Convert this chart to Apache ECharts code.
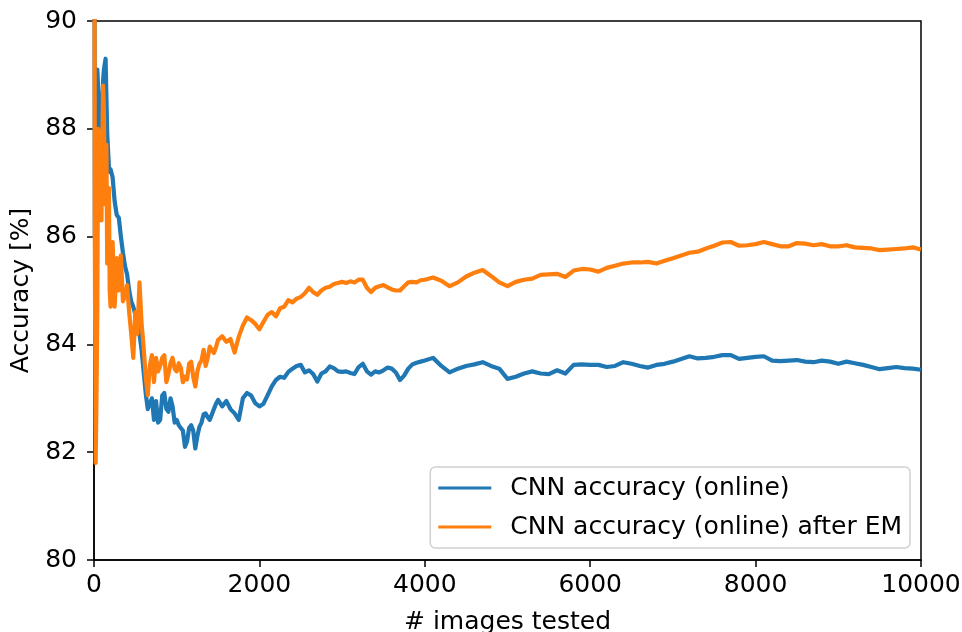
<!DOCTYPE html>
<html>
<head>
<meta charset="utf-8">
<title>CNN accuracy (online)</title>
<script src="https://cdn.jsdelivr.net/npm/echarts@6/dist/echarts.min.js"></script>
<style>
  html, body { margin: 0; padding: 0; background: #fff; }
  #chart { width: 962px; height: 632px; }
</style>
</head>
<body>
<div id="chart"></div>
<script>
// Sampling grid for "# images tested": [start, end, step] per segment
const sampleSegments = [
  [0, 200, 10],
  [200, 1500, 25],
  [1500, 4000, 50],
  [4000, 10000, 100]
];

// Running accuracy [%] of the CNN (online)
const accOnline = [
  // 0 - 200
  100, 86.0, 87.5, 88.5, 89.1, 89.1, 88.4, 88.0, 88.3, 88.6, 88.5,
  88.9, 89.1, 89.2, 89.3, 88.6, 87.9, 87.6, 87.3, 87.2, 87.25,
  // 225 - 1500
  87.1, 86.65, 86.4, 86.35, 86.0, 85.7, 85.45, 85.3, 85.0, 84.8,
  84.7, 84.55, 84.4, 84.2, 83.9, 83.5, 83.1, 82.8, 82.9, 83.0,
  82.6, 82.95, 82.55, 82.6, 83.05, 83.1, 82.8, 82.75, 83.0, 82.85,
  82.55, 82.6, 82.5, 82.45, 82.4, 82.1, 82.2, 82.45, 82.5, 82.4,
  82.07, 82.3, 82.47, 82.55, 82.7, 82.72, 82.65, 82.6, 82.7, 82.8,
  82.9, 82.97,
  // 1550 - 4000
  82.85, 82.95, 82.8, 82.72, 82.6, 83.0, 83.1, 83.05, 82.91, 82.85,
  82.9, 83.06, 83.22, 83.34, 83.4, 83.38, 83.49, 83.55, 83.6, 83.62,
  83.48, 83.52, 83.45, 83.31, 83.46, 83.5, 83.59, 83.56, 83.5, 83.49,
  83.5, 83.47, 83.45, 83.58, 83.64, 83.5, 83.44, 83.5, 83.48, 83.52,
  83.57, 83.55, 83.48, 83.34, 83.42, 83.55, 83.63, 83.66, 83.68, 83.7,
  // 4100 - 10000
  83.75, 83.6, 83.48, 83.55, 83.6, 83.63, 83.67, 83.6, 83.55, 83.36,
  83.4, 83.46, 83.5, 83.46, 83.45, 83.52, 83.46, 83.62, 83.63, 83.62,
  83.62, 83.58, 83.6, 83.67, 83.64, 83.6, 83.57, 83.62, 83.64, 83.68,
  83.73, 83.78, 83.74, 83.75, 83.77, 83.8, 83.8, 83.73, 83.75, 83.77,
  83.78, 83.7, 83.69, 83.7, 83.71, 83.68, 83.67, 83.7, 83.68, 83.64,
  83.68, 83.65, 83.62, 83.58, 83.54, 83.56, 83.58, 83.56, 83.55, 83.53
];

// Running accuracy [%] of the CNN (online) after EM
const accAfterEM = [
  // 0 - 200
  100, 86.0, 81.8, 83.0, 84.6, 88.0, 86.4, 87.6, 87.9, 86.3, 87.6,
  88.8, 88.3, 86.6, 87.4, 87.7, 85.5, 86.4, 86.9, 85.0, 84.7,
  // 225 - 1500
  85.9, 84.7, 85.6, 85.0, 85.65, 84.8, 84.9, 85.1, 84.6, 84.2,
  83.75, 84.6, 84.2, 85.15, 84.4, 83.95, 83.4, 83.06, 83.6, 83.8,
  83.3, 83.75, 83.5, 83.6, 83.75, 83.8, 83.3, 83.45, 83.65, 83.75,
  83.55, 83.5, 83.65, 83.56, 83.3, 83.4, 83.35, 83.64, 83.68, 83.4,
  83.22, 83.5, 83.64, 83.7, 83.9, 83.6, 83.75, 83.96, 83.9, 83.84,
  83.95, 84.08,
  // 1550 - 4000
  84.15, 84.05, 84.1, 83.85, 84.14, 84.35, 84.5, 84.45, 84.38, 84.28,
  84.42, 84.55, 84.6, 84.52, 84.67, 84.7, 84.82, 84.78, 84.85, 84.88,
  84.95, 85.05, 84.97, 84.92, 85.0, 85.05, 85.07, 85.12, 85.14, 85.16,
  85.14, 85.17, 85.15, 85.2, 85.2, 85.05, 84.97, 85.05, 85.08, 85.1,
  85.06, 85.02, 85.0, 85.0, 85.08, 85.15, 85.16, 85.15, 85.19, 85.2,
  // 4100 - 10000
  85.24, 85.18, 85.08, 85.15, 85.26, 85.33, 85.38, 85.27, 85.15, 85.08,
  85.16, 85.2, 85.22, 85.29, 85.3, 85.31, 85.25, 85.37, 85.4, 85.39,
  85.35, 85.42, 85.46, 85.5, 85.52, 85.52, 85.53, 85.5, 85.55, 85.6,
  85.65, 85.7, 85.72, 85.78, 85.83, 85.89, 85.9, 85.83, 85.84, 85.86,
  85.9, 85.86, 85.82, 85.82, 85.88, 85.87, 85.84, 85.86, 85.82, 85.82,
  85.84, 85.8, 85.79, 85.78, 85.75, 85.76, 85.77, 85.78, 85.8, 85.76
];

const seriesNames = ['CNN accuracy (online)', 'CNN accuracy (online) after EM'];
const xTicks = [0, 2000, 4000, 6000, 8000, 10000];
const yTicks = [80, 82, 84, 86, 88, 90];

// Expand the segment grid into the list of sample positions
const imagesTested = [];
sampleSegments.forEach(([start, end, step], i) => {
  for (let n = (i === 0 ? start : start + step); n <= end; n += step) imagesTested.push(n);
});

const pairs = vals => imagesTested.map((n, i) => [n, vals[i]]);

const FONT = 'DejaVu Sans';
const FS = 25;
const chart = echarts.init(document.getElementById('chart'), null, { renderer: 'canvas' });

chart.setOption({
  animation: false,
  backgroundColor: '#ffffff',
  grid: {
    left: 94, right: 41, top: 21, bottom: 72,
    outerBoundsMode: 'none',
    containLabel: false,
    show: true, borderColor: '#000', borderWidth: 1.5, backgroundColor: 'transparent'
  },
  legend: {
    data: seriesNames,
    orient: 'vertical',
    right: 52,
    bottom: 84,
    padding: [7, 8, 7, 8],
    itemGap: 11,
    itemWidth: 53,
    itemHeight: 3,
    icon: 'rect',
    borderColor: '#d0d0d0',
    borderWidth: 1.5,
    borderRadius: 5,
    backgroundColor: 'rgba(255,255,255,0.85)',
    textStyle: { fontFamily: FONT, fontSize: FS, color: '#000', lineHeight: 28, padding: [0, 0, 0, 14] }
  },
  xAxis: {
    type: 'value',
    min: xTicks[0],
    max: xTicks[xTicks.length - 1],
    interval: xTicks[1] - xTicks[0],
    name: '# images tested',
    nameLocation: 'middle',
    nameGap: 50,
    nameTextStyle: { fontFamily: FONT, fontSize: FS, color: '#000' },
    axisLine: { show: true, onZero: false, lineStyle: { color: '#000', width: 1.5 } },
    axisTick: { show: true, inside: false, length: 7, lineStyle: { color: '#000', width: 1.5 } },
    axisLabel: {
      fontFamily: FONT, fontSize: FS, color: '#000', margin: 13,
      formatter: v => String(v)
    },
    splitLine: { show: false }
  },
  yAxis: {
    type: 'value',
    min: yTicks[0],
    max: yTicks[yTicks.length - 1],
    interval: yTicks[1] - yTicks[0],
    name: 'Accuracy [%]',
    nameLocation: 'middle',
    nameGap: 54,
    nameTextStyle: { fontFamily: FONT, fontSize: FS, color: '#000' },
    axisLine: { show: true, lineStyle: { color: '#000', width: 1.5 } },
    axisTick: { show: true, inside: false, length: 7, lineStyle: { color: '#000', width: 1.5 } },
    axisLabel: { fontFamily: FONT, fontSize: FS, color: '#000', margin: 17 },
    splitLine: { show: false }
  },
  series: [
    {
      name: seriesNames[0],
      type: 'line',
      data: pairs(accOnline),
      showSymbol: false,
      clip: true,
      color: '#1f77b4',
      lineStyle: { width: 4.2, color: '#1f77b4', join: 'round' }
    },
    {
      name: seriesNames[1],
      type: 'line',
      data: pairs(accAfterEM),
      showSymbol: false,
      clip: true,
      color: '#ff7f0e',
      lineStyle: { width: 4.2, color: '#ff7f0e', join: 'round' }
    }
  ]
});
</script>
</body>
</html>
